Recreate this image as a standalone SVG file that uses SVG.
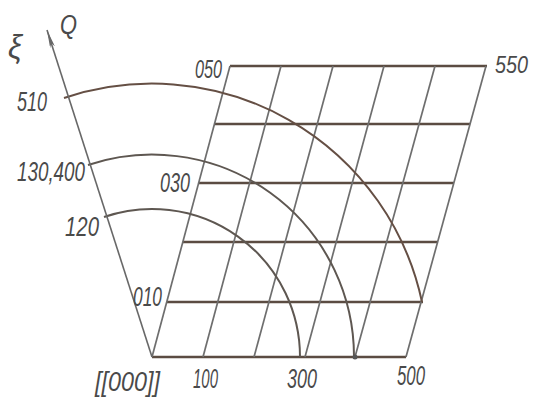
<svg xmlns="http://www.w3.org/2000/svg" width="536" height="397" viewBox="0 0 536 397">
<style>
.h{stroke:#5b4c42;stroke-width:2.4;fill:none;stroke-linecap:butt}
.s{stroke:#6e6e6e;stroke-width:1.7;fill:none}
.arc{stroke:#5e5751;stroke-width:2;fill:none}
.ax{stroke:#686868;stroke-width:1.6;fill:none}
text{font-family:"Liberation Sans",Arial,sans-serif;font-style:italic;font-size:28px;fill:#4a4a4a}
</style>
<defs>
<marker id="arr" viewBox="0 0 18 5" refX="18" refY="2.5" markerWidth="18" markerHeight="5" markerUnits="userSpaceOnUse" orient="auto">
<path d="M0,0 L18,2.5 L0,5 L4,2.5 z" fill="#686868"/>
</marker>
</defs>
<rect width="536" height="397" fill="#ffffff"/>
<g id="grid">
<line class="h" x1="152" y1="357" x2="406" y2="357"/>
<line class="h" x1="167" y1="302" x2="423" y2="302"/>
<line class="h" x1="183" y1="242" x2="438" y2="242"/>
<line class="h" x1="199" y1="183" x2="454" y2="183"/>
<line class="h" x1="214" y1="124" x2="470" y2="124"/>
<line class="h" x1="230" y1="66" x2="487" y2="66"/>
<line class="s" x1="152" y1="357" x2="230" y2="66"/>
<line class="s" x1="203" y1="357" x2="281" y2="66"/>
<line class="s" x1="254" y1="357" x2="333" y2="66"/>
<line class="s" x1="305" y1="357" x2="384" y2="66"/>
<line class="s" x1="355" y1="357" x2="435" y2="66"/>
<line class="s" x1="406" y1="357" x2="486" y2="66"/>
</g>
<g id="arcs">
<path class="arc" d="M104 217 A148 148 0 0 1 300 357"/>
<path class="arc" d="M88 165 A202 202 0 0 1 354 357"/>
<path class="arc" d="M64 98 A276 276 0 0 1 422 302" style="stroke:#654f44"/>
<circle cx="355" cy="357" r="2.5" fill="#555"/>
</g>
<g id="axis">
<line class="ax" x1="152" y1="357" x2="47" y2="30" marker-end="url(#arr)"/>
</g>
<g id="labels">
<text x="60" y="34" textLength="17" lengthAdjust="spacingAndGlyphs">Q</text>
<text x="8" y="58" style="font-size:34px" textLength="14" lengthAdjust="spacingAndGlyphs">ξ</text>
<text x="17" y="111" textLength="30" lengthAdjust="spacingAndGlyphs">510</text>
<text x="17" y="181" textLength="68" lengthAdjust="spacingAndGlyphs">130,400</text>
<text x="65" y="236" textLength="34" lengthAdjust="spacingAndGlyphs">120</text>
<text x="160" y="192" textLength="30" lengthAdjust="spacingAndGlyphs">030</text>
<text x="133" y="306" textLength="29" lengthAdjust="spacingAndGlyphs">010</text>
<text x="195" y="78" style="font-size:25px" textLength="27" lengthAdjust="spacingAndGlyphs">050</text>
<text x="495" y="73" style="font-size:24px" textLength="33" lengthAdjust="spacingAndGlyphs">550</text>
<text x="95" y="391" textLength="65" lengthAdjust="spacingAndGlyphs">[[000]]</text>
<text x="193" y="388" textLength="25" lengthAdjust="spacingAndGlyphs">100</text>
<text x="287" y="388" textLength="30" lengthAdjust="spacingAndGlyphs">300</text>
<text x="397" y="385" textLength="28" lengthAdjust="spacingAndGlyphs">500</text>
</g>
</svg>
